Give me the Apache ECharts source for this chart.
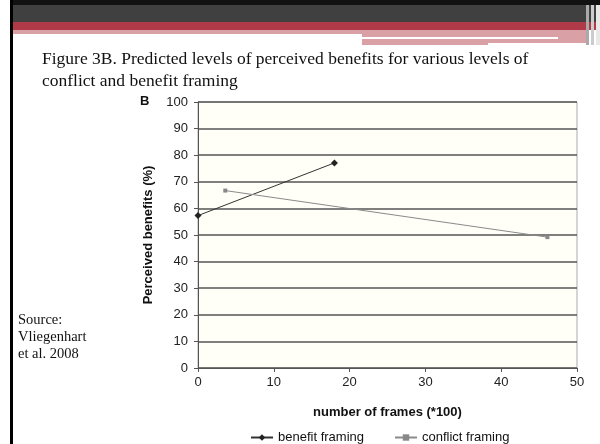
<!DOCTYPE html>
<html>
<head>
<meta charset="utf-8">
<script src="https://cdn.jsdelivr.net/npm/echarts@6/dist/echarts.min.js"></script>
<style>html,body{margin:0;padding:0;background:#fff;}#c{width:600px;height:444px;}</style>
</head>
<body>
<div id="c"></div>
<script>
var titleText = 'Figure 3B. Predicted levels of perceived benefits for various levels of\nconflict and benefit framing';
var sourceText = 'Source:\nVliegenhart\net al. 2008';
var panelLabel = 'B';
var xName = 'number of frames (*100)';
var yName = 'Perceived benefits (%)';
var seriesNames = ['benefit framing', 'conflict framing'];
var benefitX = [0, 18];
var benefitY = [57.3, 77.1];
var conflictX = [3.6, 46.1];
var conflictY = [66.7, 49.2];

var chart = echarts.init(document.getElementById('c'), null, {renderer: 'canvas'});
var sans = '"Liberation Sans", Arial, sans-serif';
var serif = '"Liberation Serif", "DejaVu Serif", serif';

function pairs(xs, ys) { return xs.map(function (x, i) { return [x, ys[i]]; }); }

var option = {
  backgroundColor: '#fff',
  animation: false,
  title: {
    text: titleText,
    left: 37, top: 43,
    textStyle: {fontFamily: serif, fontSize: 17.5, fontWeight: 'normal', color: '#111', lineHeight: 22}
  },
  graphic: [
    {type: 'rect', shape: {x: 10, y: 0, width: 590, height: 5}, style: {fill: '#111'}},
    {type: 'rect', shape: {x: 10, y: 0, width: 3, height: 444}, style: {fill: '#000'}},
    {type: 'rect', shape: {x: 13, y: 5, width: 587, height: 17}, style: {fill: '#404040'}},
    {type: 'rect', shape: {x: 13, y: 22, width: 587, height: 8}, style: {fill: '#b03a48'}},
    {type: 'rect', shape: {x: 13, y: 30, width: 349, height: 4}, style: {fill: '#d9a0a6'}},
    {type: 'rect', shape: {x: 362, y: 30, width: 225, height: 15}, style: {fill: '#d9a0a6'}},
    {type: 'rect', shape: {x: 362, y: 37, width: 196, height: 2}, style: {fill: '#fff'}},
    {type: 'rect', shape: {x: 488, y: 43, width: 103, height: 2}, style: {fill: '#fff'}},
    {type: 'rect', shape: {x: 586, y: 5, width: 3, height: 40}, style: {fill: '#aaa'}},
    {type: 'rect', shape: {x: 591, y: 5, width: 3, height: 40}, style: {fill: '#ccc'}},
    {type: 'rect', shape: {x: 596, y: 5, width: 4, height: 40}, style: {fill: '#e8e8e8'}},
    {type: 'text', left: 18, top: 312, style: {text: sourceText, font: '14.5px ' + serif, fill: '#111', lineHeight: 17}},
    {type: 'text', left: 140, top: 95, style: {text: panelLabel, font: 'bold 13px ' + sans, fill: '#111'}}
  ],
  grid: {
    left: 198, right: 23, top: 102, bottom: 76,
    show: true, backgroundColor: '#fffff8', borderColor: '#aaa', borderWidth: 1
  },
  legend: {
    top: 426, left: 245,
    itemGap: 30, itemWidth: 22, itemHeight: 8,
    textStyle: {fontFamily: sans, fontSize: 13, color: '#111'},
    data: seriesNames
  },
  xAxis: {
    type: 'value', min: 0, max: 50, interval: 10,
    name: xName, nameLocation: 'middle', nameGap: 38,
    nameTextStyle: {fontFamily: sans, fontSize: 13, fontWeight: 'bold', color: '#111'},
    axisLine: {onZero: false, lineStyle: {color: '#555', width: 1}},
    axisTick: {show: true, length: 4, lineStyle: {color: '#555'}},
    axisLabel: {fontFamily: sans, fontSize: 13, color: '#222', margin: 8},
    splitLine: {show: false}
  },
  yAxis: {
    type: 'value', min: 0, max: 100, interval: 10,
    name: yName, nameLocation: 'middle', nameGap: 35,
    nameTextStyle: {fontFamily: sans, fontSize: 13, fontWeight: 'bold', color: '#111'},
    axisLine: {show: true, lineStyle: {color: '#555', width: 1}},
    axisTick: {show: true, length: 4, lineStyle: {color: '#555'}},
    axisLabel: {fontFamily: sans, fontSize: 13, color: '#222', margin: 10},
    splitLine: {show: true, lineStyle: {color: '#555', width: 1.5}}
  },
  series: [
    {
      name: seriesNames[0], type: 'line', data: pairs(benefitX, benefitY),
      symbol: 'diamond', symbolSize: 7, showSymbol: true,
      lineStyle: {color: '#333', width: 1}, itemStyle: {color: '#222'}
    },
    {
      name: seriesNames[1], type: 'line', data: pairs(conflictX, conflictY),
      symbol: 'rect', symbolSize: 4, showSymbol: true,
      lineStyle: {color: '#8a8a8a', width: 1}, itemStyle: {color: '#888'}
    }
  ]
};
chart.setOption(option);
</script>
</body>
</html>
